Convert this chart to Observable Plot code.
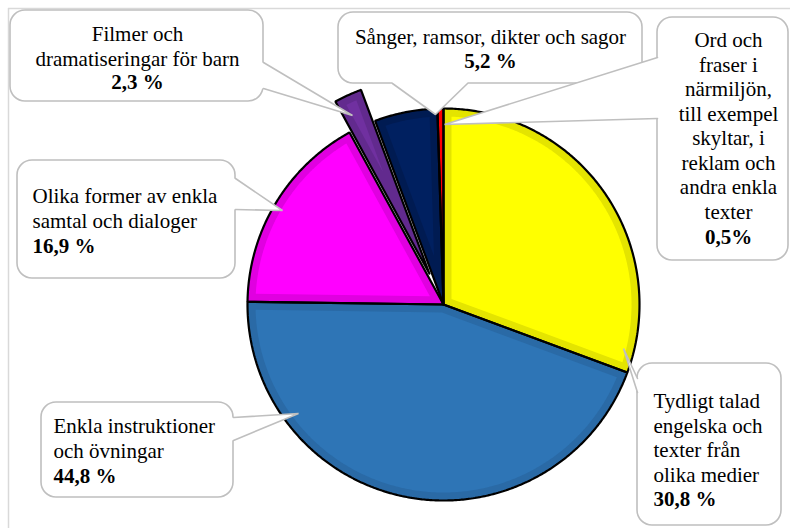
<!DOCTYPE html>
<html><head><meta charset="utf-8">
<script src="https://cdn.jsdelivr.net/npm/d3@7"></script>
<script src="https://cdn.jsdelivr.net/npm/@observablehq/plot@0.6"></script>
<style>
body{margin:0;background:#fff}
#chart svg text{font-family:"Liberation Serif","Times New Roman",Times,serif;}
</style>
</head><body><div id="chart"></div>
<script>
// ---- data ----
const labels = [
  "Tydligt talad\nengelska och\ntexter från\nolika medier",
  "Enkla instruktioner\noch övningar",
  "Olika former av enkla\nsamtal och dialoger",
  "Filmer och\ndramatiseringar för barn",
  "Sånger, ramsor, dikter och sagor",
  "Ord och\nfraser i\nnärmiljön,\ntill exempel\nskyltar, i\nreklam och\nandra enkla\ntexter"
];
const values = [30.8, 44.8, 16.9, 2.3, 5.2, 0.5];
const valueLabels = ["30,8 %", "44,8 %", "16,9 %", "2,3 %", "5,2 %", "0,5%"];

// ---- styles / layout ----
const colors = ["#FFFF00", "#2E75B6", "#FF00FF", "#7030A0", "#002060", "#FF0000"];
const bandColors = ["#E4E400", "#2A6AA6", "#E000E0", "#622A8E", "#001B52", "#FF0000"];
const explodeBy = [0, 0, 0, 34, 0, 0];
const CX = 443, CY = 304, R = 196, INSET = 8, STEP = Math.PI / 360;
const FONT = "Liberation Serif";
const callouts = [
  {box:[637,363,781,525], tx:653, anchor:"start",  labelY:481, valueY:505, side:"left",   att:[[637,378],[637,392]], tip:[623,348]},
  {box:[41,402,233,497],  tx:53,  anchor:"start",  labelY:457, valueY:482, side:"right",  att:[[233,417],[233,440]], tip:[298,413]},
  {box:[17,160,235,278],  tx:32,  anchor:"start",  labelY:227, valueY:252, side:"right",  att:[[235,178],[235,209]], tip:[282,210]},
  {box:[10,10,263,101],   tx:137, anchor:"middle", labelY:65,  valueY:88,  side:"right",  att:[[263,62],[263,88]],   tip:[352,115]},
  {box:[338,12,642,83],   tx:490, anchor:"middle", labelY:43,  valueY:67,  side:"bottom", att:[[392,83],[467,83]],   tip:[435,114]},
  {box:[657,17,788,260],  tx:728, anchor:"middle", labelY:218, valueY:243, side:"left",   att:[[657,57],[657,118]],  tip:[444,124]}
];

// ---- build pie polygons via d3.pie ----
const rows = values.map((v, i) => ({i, value: v}));
const arcs = d3.pie().sort(null).value(d => d.value)(rows);
const outer = [], inner = [];
arcs.forEach(a => {
  const i = a.data.i, mid = (a.startAngle + a.endAngle) / 2, e = explodeBy[i];
  const cx = CX + e * Math.sin(mid), cy = CY - e * Math.cos(mid);
  const span = a.endAngle - a.startAngle;
  const n = Math.max(2, Math.ceil(span / STEP));
  const pts = [[cx, cy]];
  for (let k = 0; k <= n; k++) {
    const t = a.startAngle + span * k / n;
    pts.push([cx + R * Math.sin(t), cy - R * Math.cos(t)]);
  }
  pts.push([cx, cy]);
  pts.forEach(p => outer.push({id: i, x: p[0], y: p[1], fill: bandColors[i]}));
  const h = span / 2, r2 = R - INSET, da = Math.asin(INSET / r2);
  if (h > da * 1.5) {
    const ad = INSET / Math.sin(Math.min(h, Math.PI / 2));
    const apex = [cx + ad * Math.sin(mid), cy - ad * Math.cos(mid)];
    const s0 = a.startAngle + da, s1 = a.endAngle - da;
    const m = Math.max(2, Math.ceil((s1 - s0) / STEP));
    const ip = [apex];
    for (let k = 0; k <= m; k++) {
      const t = s0 + (s1 - s0) * k / m;
      ip.push([cx + r2 * Math.sin(t), cy - r2 * Math.cos(t)]);
    }
    ip.push(apex);
    ip.forEach(p => inner.push({id: i, x: p[0], y: p[1], fill: colors[i]}));
  }
});

// ---- callout pointers ----
const ptrFill = [], ptrLine = [];
callouts.forEach((c, i) => {
  const [a1, a2] = c.att;
  const off = c.side === "left" ? [3, 0] : c.side === "right" ? [-3, 0] : [0, -3];
  [a1, c.tip, a2, [a2[0] + off[0], a2[1] + off[1]], [a1[0] + off[0], a1[1] + off[1]], a1]
    .forEach(p => ptrFill.push({id: i, x: p[0], y: p[1]}));
  [a1, c.tip, a2].forEach(p => ptrLine.push({id: i, x: p[0], y: p[1]}));
});

const textMarks = callouts.flatMap((c, i) => [
  Plot.text([c], {x: "tx", y: "labelY", text: () => labels[i], textAnchor: c.anchor, lineAnchor: "bottom",
    lineHeight: 1.165, fontSize: 21, fontFamily: FONT, fill: "black"}),
  Plot.text([c], {x: "tx", y: "valueY", text: () => valueLabels[i], textAnchor: c.anchor, lineAnchor: "bottom",
    fontSize: 21, fontWeight: "bold", fontFamily: FONT, fill: "black"})
]);

const chart = Plot.plot({
  width: 790, height: 528, margin: 0,
  x: {domain: [0, 790], range: [0, 790], axis: null},
  y: {domain: [0, 528], range: [0, 528], axis: null},
  color: {type: "identity"},
  style: {background: "white"},
  marks: [
    Plot.ruleY([8], {x1: 8, x2: 790, stroke: "#D9D9D9", strokeWidth: 1.5}),
    Plot.ruleX([8], {y1: 8, y2: 528, stroke: "#D9D9D9", strokeWidth: 1.5}),
    Plot.line(outer, {x: "x", y: "y", z: "id", fill: "fill", stroke: "none"}),
    Plot.line(inner, {x: "x", y: "y", z: "id", fill: "fill", stroke: "none"}),
    Plot.line(outer, {x: "x", y: "y", z: "id", fill: "none", stroke: "black", strokeWidth: 2.2, strokeLinejoin: "miter"}),
    Plot.rect(callouts, {x1: d => d.box[0], y1: d => d.box[1], x2: d => d.box[2], y2: d => d.box[3],
      rx: 15, fill: "white", stroke: "#BFBFBF", strokeWidth: 1.6}),
    Plot.line(ptrFill, {x: "x", y: "y", z: "id", fill: "white", stroke: "none"}),
    Plot.line(ptrLine, {x: "x", y: "y", z: "id", fill: "none", stroke: "#BFBFBF", strokeWidth: 1.6, strokeLinejoin: "miter"}),
    ...textMarks
  ]
});
document.getElementById("chart").append(chart);
</script></body></html>
